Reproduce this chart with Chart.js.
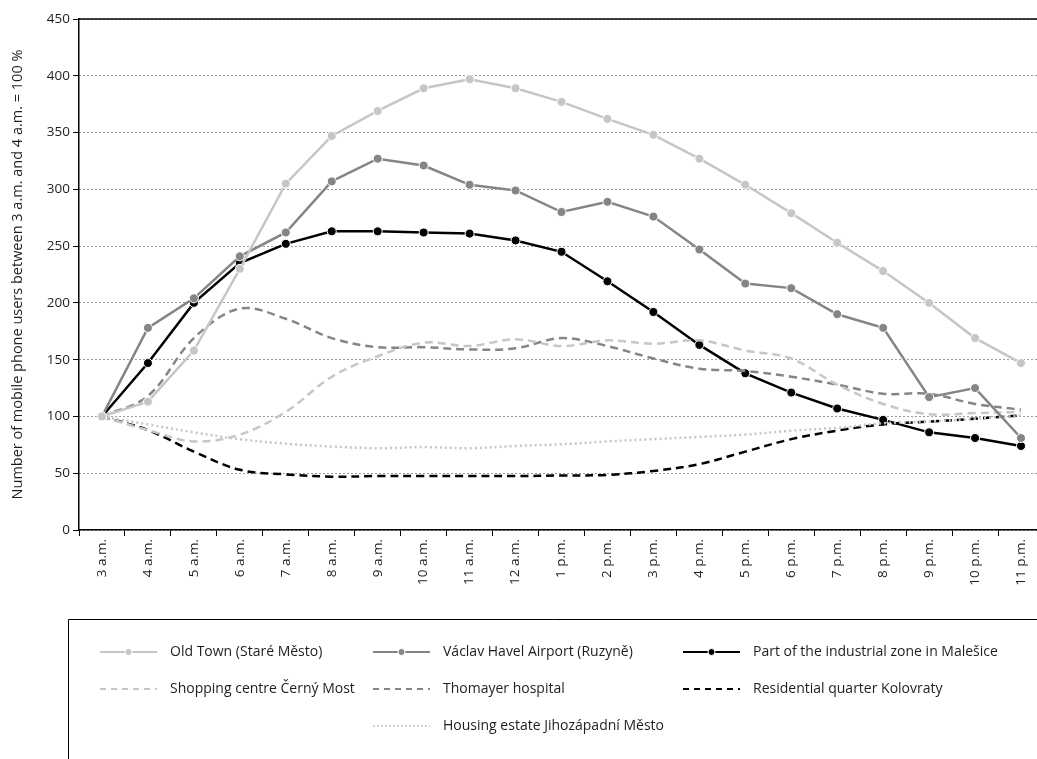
<!DOCTYPE html>
<html>
<head>
<meta charset="utf-8">
<script src="https://cdn.jsdelivr.net/npm/chart.js@4/dist/chart.umd.min.js"></script>
<style>
  html, body { margin: 0; padding: 0; background: #fff; overflow: hidden; }
  #chart { display: block; }
</style>
</head>
<body>
<canvas id="chart" width="1037" height="759"></canvas>
<script>
// Hour of day (categories)
const hours = ['3 a.m.', '4 a.m.', '5 a.m.', '6 a.m.', '7 a.m.', '8 a.m.', '9 a.m.', '10 a.m.', '11 a.m.', '12 a.m.',
  '1 p.m.', '2 p.m.', '3 p.m.', '4 p.m.', '5 p.m.', '6 p.m.', '7 p.m.', '8 p.m.', '9 p.m.', '10 p.m.', '11 p.m.'];

// Mobile phone users, 3–4 a.m. = 100 %
const oldTown     = [100, 113, 158, 230, 305, 347, 369, 389, 397, 389, 377, 362, 348, 327, 304, 279, 253, 228, 200, 169, 147];
const airport     = [100, 178, 204, 241, 262, 307, 327, 321, 304, 299, 280, 289, 276, 247, 217, 213, 190, 178, 117, 125, 81];
const industrial  = [100, 147, 200, 235, 252, 263, 263, 262, 261, 255, 245, 219, 192, 163, 138, 121, 107, 97, 86, 81, 74];
const shopping    = [100, 88, 78, 84, 104, 135, 153, 165, 162, 168, 162, 167, 164, 167, 158, 151, 128, 111, 102, 103, 104];
const hospital    = [100, 118, 169, 195, 186, 169, 161, 161, 159, 160, 169, 162, 151, 142, 140, 135, 128, 120, 120, 111, 106];
const kolovraty   = [100, 88, 69, 53, 49, 47, 47.5, 47.5, 47.5, 47.5, 48, 48.5, 52, 58, 69, 80, 87.5, 93, 95.5, 98, 101];
const housing     = [100, 93, 86, 80, 76, 73.5, 72, 73, 72, 74, 75.5, 78, 80, 82, 84, 87.5, 90, 94, 95.5, 98, 101];

const yTicks = [0, 50, 100, 150, 200, 250, 300, 350, 400, 450];

const LIGHT = '#c6c6c6';
const MID = '#858585';
const DARK = '#000000';
const FONT = "'Open Sans', 'Noto Sans', sans-serif";
const TEXT = '#1e1e1e';
const PLOT_RIGHT = 1044; // the plot runs a few pixels past the canvas edge

function markerSeries(label, data, color) {
  return {
    label, data,
    borderColor: color, backgroundColor: color,
    borderWidth: 2.5, tension: 0,
    pointRadius: 4.5, pointBorderColor: '#ffffff', pointBorderWidth: 1,
    pointBackgroundColor: color, pointHoverRadius: 4.5,
    marker: true
  };
}
function plainSeries(label, data, color, dash) {
  return {
    label, data,
    borderColor: color, backgroundColor: color,
    borderWidth: 2.5, borderDash: dash, tension: 0.35,
    pointRadius: 0, pointHoverRadius: 0, marker: false
  };
}

const datasets = [
  Object.assign(markerSeries('Old Town (Staré Město)', oldTown, LIGHT), { legendCol: 0, legendRow: 0 }),
  Object.assign(markerSeries('Václav Havel Airport (Ruzyně)', airport, MID), { legendCol: 1, legendRow: 0 }),
  Object.assign(plainSeries('Shopping centre Černý Most', shopping, LIGHT, [8, 5]), { legendCol: 0, legendRow: 1 }),
  Object.assign(plainSeries('Thomayer hospital', hospital, MID, [8, 5]), { legendCol: 1, legendRow: 1 }),
  Object.assign(plainSeries('Housing estate Jihozápadní Město', housing, LIGHT, [2, 3]), { legendCol: 1, legendRow: 2 }),
  Object.assign(plainSeries('Residential quarter Kolovraty', kolovraty, DARK, [8, 5]), { legendCol: 2, legendRow: 1 }),
  Object.assign(markerSeries('Part of the industrial zone in Malešice', industrial, DARK), { legendCol: 2, legendRow: 0 })
];

// Stretch the plot area (and the x scale) past the right canvas edge
const widenPlot = {
  id: 'widenPlot',
  afterLayout(chart) {
    const xs = chart.scales.x;
    const area = chart.chartArea;
    area.right = PLOT_RIGHT;
    area.width = PLOT_RIGHT - area.left;
    xs.right = PLOT_RIGHT;
    xs.width = PLOT_RIGHT - xs.left;
    xs.configure();
  }
};

// Solid frame line along the top of the plot area
const topLine = {
  id: 'topLine',
  afterDatasetsDraw(chart) {
    const { ctx, chartArea } = chart;
    ctx.save();
    ctx.strokeStyle = '#000';
    ctx.lineWidth = 1.5;
    ctx.beginPath();
    ctx.moveTo(chartArea.left, chartArea.top);
    ctx.lineTo(chartArea.right + 2, chartArea.top);
    ctx.stroke();
    ctx.restore();
  }
};

// Boxed three-column legend below the axis
const boxLegend = {
  id: 'boxLegend',
  afterDraw(chart) {
    const { ctx } = chart;
    const colX = [100, 373, 683];
    const rowY = [652, 689, 726];
    const sampleW = 57;
    const textGap = 13;
    ctx.save();
    ctx.strokeStyle = '#000';
    ctx.lineWidth = 1;
    ctx.beginPath();
    ctx.moveTo(68.5, 800);
    ctx.lineTo(68.5, 619.5);
    ctx.lineTo(1100, 619.5);
    ctx.stroke();

    chart.data.datasets.forEach(ds => {
      const x = colX[ds.legendCol];
      const y = rowY[ds.legendRow];
      ctx.save();
      ctx.strokeStyle = ds.borderColor;
      ctx.lineWidth = 2;
      ctx.setLineDash(ds.borderDash ? (ds.borderDash[0] > 4 ? [6, 5] : [1.5, 2.5]) : []);
      ctx.beginPath();
      ctx.moveTo(x, y);
      ctx.lineTo(x + sampleW, y);
      ctx.stroke();
      if (ds.marker) {
        ctx.setLineDash([]);
        ctx.fillStyle = ds.pointBackgroundColor;
        ctx.strokeStyle = '#fff';
        ctx.lineWidth = 1;
        ctx.beginPath();
        ctx.arc(x + sampleW / 2, y, 3.5, 0, Math.PI * 2);
        ctx.fill();
        ctx.stroke();
      }
      ctx.restore();
      ctx.fillStyle = TEXT;
      ctx.font = "14px " + FONT;
      ctx.textBaseline = 'middle';
      ctx.textAlign = 'left';
      ctx.fillText(ds.label, x + sampleW + textGap, y);
    });
    ctx.restore();
  }
};

new Chart(document.getElementById('chart'), {
  type: 'line',
  data: { labels: hours, datasets },
  plugins: [widenPlot, topLine, boxLegend],
  options: {
    responsive: false,
    animation: false,
    devicePixelRatio: 1,
    layout: { padding: { top: 19, right: 0, left: 0, bottom: 0 } },
    plugins: {
      legend: { display: false },
      tooltip: { enabled: false }
    },
    scales: {
      x: {
        type: 'category',
        offset: true,
        afterFit(scale) { scale.height = 229; },
        grid: {
          offset: true,
          drawOnChartArea: false,
          drawTicks: true,
          tickLength: 6,
          tickColor: '#000',
          tickWidth: 1
        },
        border: { display: true, color: '#000', width: 1.5 },
        ticks: {
          minRotation: 90, maxRotation: 90,
          padding: 3,
          color: TEXT,
          font: { family: FONT, size: 13.5 }
        }
      },
      y: {
        min: 0, max: 450,
        afterFit(scale) { scale.width = 79; },
        afterBuildTicks(scale) { scale.ticks = yTicks.map(v => ({ value: v })); },
        grid: {
          color: '#3a3a3a',
          lineWidth: 1,
          drawTicks: true,
          tickLength: 6,
          tickColor: '#000',
          tickWidth: 1
        },
        border: { display: true, color: '#000', width: 1.5, dash: [1, 3] },
        ticks: {
          padding: 3,
          color: TEXT,
          font: { family: FONT, size: 13.5 }
        },
        title: {
          display: true,
          text: 'Number of mobile phone users between 3 a.m. and 4 a.m. = 100 %',
          color: TEXT,
          font: { family: FONT, size: 14.5 },
          padding: { top: 9, bottom: 0 }
        }
      }
    }
  }
});
</script>
</body>
</html>
